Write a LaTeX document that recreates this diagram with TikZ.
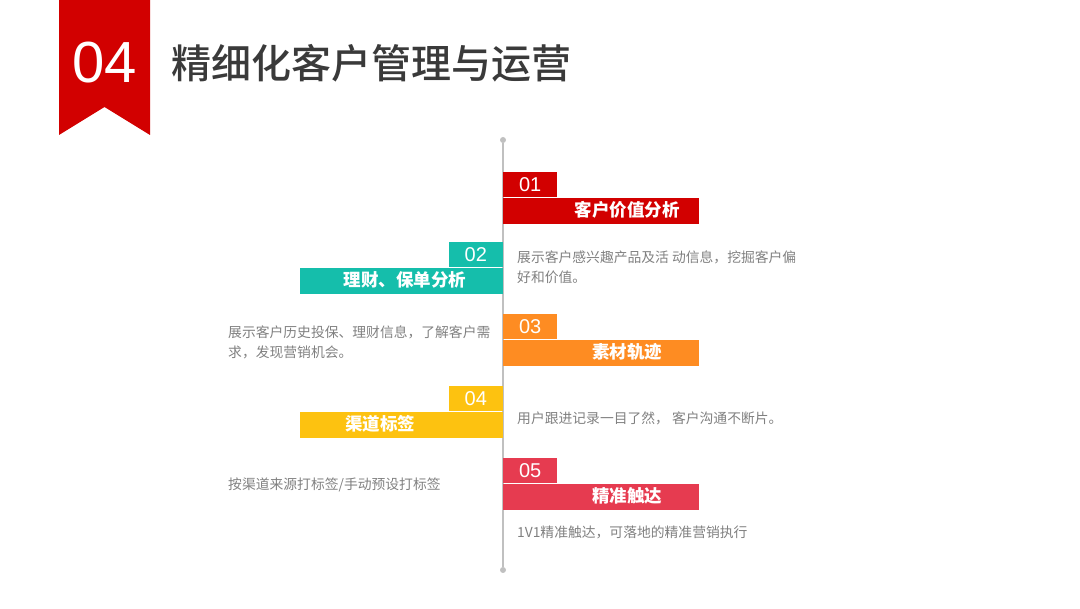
\documentclass[tikz,border=0pt]{standalone}
\usepackage{fontspec}
\setmainfont{Noto Sans CJK SC}
\newfontfamily\numfont{Liberation Sans}
\newfontfamily\headfont{Noto Sans CJK SC}[UprightFont={* Medium}]
\usepackage{tikz}
\usetikzlibrary{positioning}
\definecolor{brand}{HTML}{D20000}
\definecolor{tealc}{HTML}{15BEAB}
\definecolor{orangec}{HTML}{FE8C22}
\definecolor{yellowc}{HTML}{FDC210}
\definecolor{crimson}{HTML}{E63B50}
\definecolor{ink}{HTML}{3A3A3A}
\definecolor{dim}{HTML}{808080}
\definecolor{rail}{HTML}{C0C0C0}
\tikzset{
  tabbox/.style={fill=#1, minimum width=54pt, minimum height=25pt, inner sep=0pt,
                 text=white, font=\numfont\fontsize{20}{20}\selectfont},
  barbox/.style={fill=#1, minimum height=26pt, inner sep=0pt},
  bartext/.style={text=white, inner sep=0pt, font=\bfseries\fontsize{17.5}{18}\selectfont},
  desc/.style={text=dim, inner sep=0pt, align=left, anchor=west,
               font=\fontsize{13.8}{20}\selectfont},
  raildot/.style={circle, fill=rail, inner sep=0pt, minimum size=6pt},
}

\begin{document}
\begin{tikzpicture}[x=1pt, y=-1pt]
  \useasboundingbox (0,0) rectangle (1080,609);
  % header ribbon and title
  \fill[brand] (59,0) -- (150,0) -- (150,135) -- (104.5,107) -- (59,135) -- cycle;
  \node[text=white, inner sep=0pt, font=\numfont\fontsize{58}{58}\selectfont]
    (secnum) at (104.5,63) {04};
  \node[anchor=west, inner sep=0pt, text=ink, font=\headfont\fontsize{40}{40}\selectfont]
    (title) at (171,63) {精细化客户管理与运营};

  % timeline
  \node[raildot] (railtop) at (503,140) {};
  \node[raildot] (railbot) at (503,570) {};
  \draw[rail, line width=1.6pt] (railtop) -- (railbot);

  % 01
  \node[tabbox=brand, anchor=north west] (tab1) at (503,172) {01};
  \node[barbox=brand, minimum width=196pt, anchor=north west] (bar1) at (tab1.south west) {};
  \node[bartext] (lbl1) at (627,210) {客户价值分析};
  \node[desc] (desc1) at (517,267)
    {展示客户感兴趣产品及活 动信息，挖掘客户偏\\好和价值。};

  % 02
  \node[tabbox=tealc, anchor=north east] (tab2) at (503,242) {02};
  \node[barbox=tealc, minimum width=203pt, anchor=north east] (bar2) at (tab2.south east) {};
  \node[bartext] (lbl2) at (405,280) {理财、保单分析};

  % 03
  \node[tabbox=orangec, anchor=north west] (tab3) at (503,314) {03};
  \node[barbox=orangec, minimum width=196pt, anchor=north west] (bar3) at (tab3.south west) {};
  \node[bartext] (lbl3) at (627,352) {素材轨迹};
  \node[desc] (desc2) at (228,342)
    {展示客户历史投保、理财信息，了解客户需\\求，发现营销机会。};

  % 04
  \node[tabbox=yellowc, anchor=north east] (tab4) at (503,386) {04};
  \node[barbox=yellowc, minimum width=203pt, anchor=north east] (bar4) at (tab4.south east) {};
  \node[bartext] (lbl4) at (380,424) {渠道标签};
  \node[desc] (desc3) at (517,418) {用户跟进记录一目了然， 客户沟通不断片。};

  % 05
  \node[tabbox=crimson, anchor=north west] (tab5) at (503,458) {05};
  \node[barbox=crimson, minimum width=196pt, anchor=north west] (bar5) at (tab5.south west) {};
  \node[bartext] (lbl5) at (627,496) {精准触达};
  \node[desc] (desc4) at (228,485) {按渠道来源打标签/手动预设打标签};
  \node[desc] (desc5) at (517,532) {1V1精准触达，可落地的精准营销执行};
\end{tikzpicture}
\end{document}
